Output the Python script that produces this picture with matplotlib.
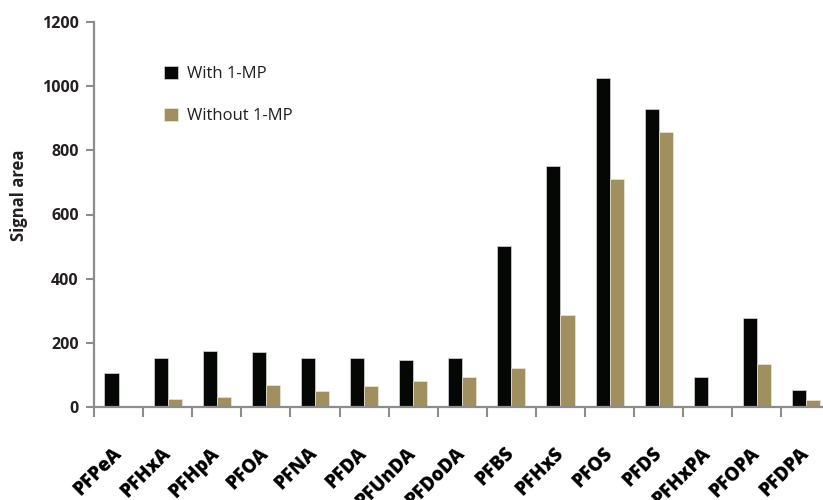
import numpy as np
import matplotlib
matplotlib.use("Agg")
import matplotlib.pyplot as plt

plt.rcParams['font.family'] = ['Open Sans', 'DejaVu Sans']

# compounds and signal areas
compounds = ['PFPeA', 'PFHxA', 'PFHpA', 'PFOA', 'PFNA', 'PFDA', 'PFUnDA', 'PFDoDA',
             'PFBS', 'PFHxS', 'PFOS', 'PFDS', 'PFHxPA', 'PFOPA', 'PFDPA']
with_mp = [108, 154, 175, 171, 152, 153, 148, 152, 502, 750, 1025, 927, 93, 278, 53]
without_mp = [4, 26, 33, 69, 51, 67, 81, 95, 122, 287, 711, 858, 0, 134, 22]

black = '#050705'
tan = '#a09060'
axcol = '#8c8c8c'
txtcol = '#231f20'

fig = plt.figure(figsize=(8.23, 5.0), dpi=100)
ax = fig.add_axes([0.1142, 0.1854, 0.895, 0.7712])

x = np.arange(len(compounds)) + 0.5
w = 0.286
ax.bar(x - w / 2, with_mp, w, color=black, edgecolor='#d8d8d8', linewidth=0.5,
       label='With 1-MP')
ax.bar(x + w / 2, without_mp, w, color=tan, edgecolor='#ece6d6', linewidth=0.5,
       label='Without 1-MP')

ax.set_xlim(0, len(compounds))
ax.set_ylim(0, 1200)
ax.set_yticks(np.arange(0, 1201, 200))

for s in ['top', 'right']:
    ax.spines[s].set_visible(False)
for s in ['left', 'bottom']:
    ax.spines[s].set_color(axcol)
    ax.spines[s].set_linewidth(1.6)

ax.tick_params(axis='y', direction='out', length=6, width=1.5, color=axcol,
               labelsize=11.5, labelcolor=txtcol, pad=5)
for lab in ax.get_yticklabels():
    lab.set_fontweight('bold')

# category boundaries as tick marks, names at centres
ax.set_xticks(np.arange(0, len(compounds) + 1), minor=True)
ax.set_xticks(x)
ax.set_xticklabels(compounds, rotation=45, ha='right', va='center',
                   rotation_mode='anchor', fontsize=13.5, fontweight='heavy',
                   color='black')
ax.tick_params(axis='x', which='major', length=0, pad=31)
ax.tick_params(axis='x', which='minor', direction='out', length=7, width=1.5,
               color=axcol)

ax.set_ylabel('Signal area', fontsize=12, fontweight='bold', color=txtcol)
ax.yaxis.set_label_coords(-0.09, 0.55)

leg = ax.legend(loc='upper left', bbox_to_anchor=(0.075, 0.925), frameon=False,
                fontsize=12, handlelength=0.85, handleheight=0.85,
                labelspacing=1.55, handletextpad=0.5)
for t in leg.get_texts():
    t.set_color(txtcol)

fig.savefig('out.png', dpi=100)
